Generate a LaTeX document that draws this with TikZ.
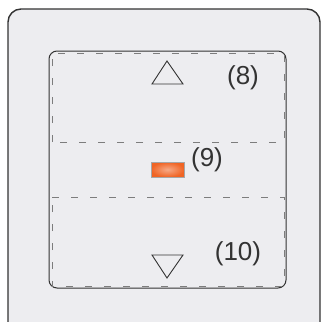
\documentclass[tikz,border=0pt]{standalone}
\usepackage{fontspec}
\setmainfont{Liberation Sans}
\usepackage{xcolor}
\definecolor{panelgray}{RGB}{237,237,240}
\definecolor{framedark}{RGB}{51,51,51}
\definecolor{dashgray}{RGB}{125,125,125}
\definecolor{ledorange}{RGB}{240,100,36}
\usetikzlibrary{positioning}
\tikzset{
  zone/.style={draw=dashgray, line width=0.9pt, dash pattern=on 7pt off 12pt},
  arrowtri/.style={draw=framedark, line width=0.9pt, line join=miter},
  keylabel/.style={font=\fontsize{26}{28}\selectfont, text=framedark, inner sep=0pt}
}
\begin{document}
\begin{tikzpicture}[x=1pt, y=-1pt]
  \useasboundingbox (0,0) rectangle (322,322);
  \fill[white] (0,0) rectangle (322,322);
  % outer housing
  \begin{scope}
    \clip (0,0) rectangle (322,322);
    \draw[framedark, line width=1.4pt, fill=panelgray, rounded corners=13pt]
      (8,9) rectangle (320,340);
  \end{scope}
  % key plate
  \draw[framedark, line width=1pt, rounded corners=8pt] (49,51) rectangle (286,288);
  % key zones
  \draw[zone] (52,142) -- (52,53) -- (284,53) -- (284,142) -- cycle;
  \draw[zone] (52,197) -- (284,197) -- (284,286) -- (52,286) -- cycle;
  % up / down
  \draw[arrowtri] (167,61) -- (183,84) -- (152,84) -- cycle;
  \draw[arrowtri] (152,255) -- (183,255) -- (167,278) -- cycle;
  % status led
  \node[draw=gray!70, line width=0.6pt, inner color=ledorange!55!white, outer color=ledorange,
        minimum width=33pt, minimum height=15pt, inner sep=0pt] (led) at (167.5,169.5) {};
  \node[keylabel] (up) at (243,78) {(8)};
  \node[keylabel] (ledlbl) at (207,160) {(9)};
  \node[keylabel] (down) at (238,254) {(10)};
\end{tikzpicture}
\end{document}
